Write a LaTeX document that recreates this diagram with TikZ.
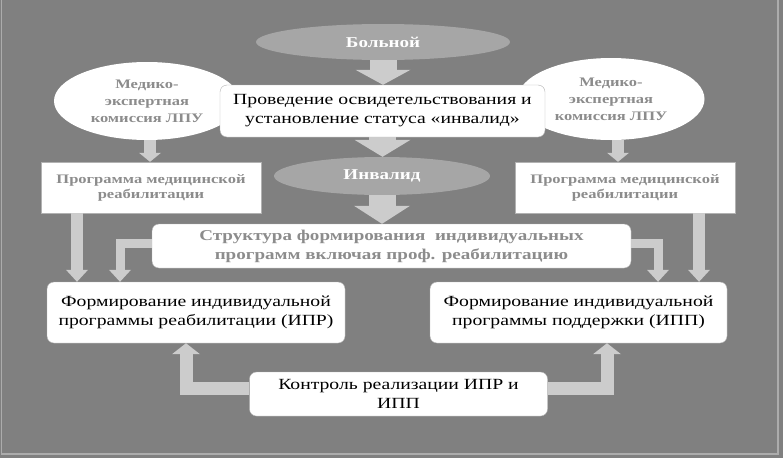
\documentclass[tikz,border=0pt]{standalone}
\usepackage{fontspec}
\setmainfont[FakeStretch=1.27]{Liberation Serif}
\usetikzlibrary{shapes.geometric,arrows.meta}

\begin{document}
\begin{tikzpicture}[x=1pt,y=-1pt,
  oval/.style={ellipse, fill=gray!70, text=white, inner sep=0pt,
    font=\bfseries\fontsize{15}{18}\selectfont},
  whiteoval/.style={ellipse, fill=white, text=gray!90, inner sep=0pt, align=center,
    font=\bfseries\fontsize{13}{17}\selectfont},
  plainbox/.style={rectangle, fill=white, draw=gray!60, inner sep=0pt, align=center,
    text=gray!90, font=\bfseries\fontsize{13}{15}\selectfont},
  roundbox/.style={rectangle, rounded corners=7pt, fill=white, draw=gray!60,
    inner sep=0pt, align=center, font=\fontsize{15.5}{18.5}\selectfont},
  blockarrow/.style n args={3}{gray!40, line width=#1,
    -{Triangle[width=#2, length=#3, line width=0pt]}}]
\useasboundingbox (0,0) rectangle (783,458);
% Background and frame
\fill[gray] (0,0) rectangle (783,458);
\draw[gray!65, line width=1.5pt] (1.5,0) |- (778,454) -- (778,0);

% Commissions and programmes
\node[whiteoval, minimum width=186pt, minimum height=78pt] (mekL) at (147,101)
  {Медико-\\экспертная\\комиссия ЛПУ};
\node[whiteoval, minimum width=187pt, minimum height=82pt] (mekR) at (611,99)
  {Медико-\\экспертная\\комиссия ЛПУ};
\node[plainbox, minimum width=220pt, minimum height=51pt] (progL) at (151,187.5)
  {Программа медицинской\\реабилитации};
\node[plainbox, minimum width=220pt, minimum height=51pt] (progR) at (625,187.5)
  {Программа медицинской\\реабилитации};

% Centre column
\node[oval, minimum width=254pt, minimum height=36pt] (bolnoy) at (383,42) {Больной};
\node[roundbox, minimum width=325pt, minimum height=52pt, font=\fontsize{15.5}{19}\selectfont]
  (exam) at (382.5,111) {Проведение освидетельствования и\\установление статуса «инвалид»};
\node[oval, minimum width=216pt, minimum height=38pt] (invalid) at (382,176) {Инвалид};

% Structure and individual programmes
\node[roundbox, minimum width=479pt, minimum height=44pt, text=gray!90,
  font=\bfseries\fontsize{15}{19}\selectfont] (struct) at (391.5,246)
  {Структура формирования~ индивидуальных\\программ включая проф. реабилитацию};
\node[roundbox, minimum width=298pt, minimum height=61pt] (formL) at (196,312.5)
  {Формирование индивидуальной\\программы реабилитации (ИПР)};
\node[roundbox, minimum width=297pt, minimum height=61pt] (formR) at (578.5,312.5)
  {Формирование индивидуальной\\программы поддержки (ИПП)};
\node[roundbox, minimum width=298pt, minimum height=44pt] (control) at (398.5,394)
  {Контроль реализации ИПР и\\ИПП};

% Arrows
\draw[blockarrow={27pt}{55pt}{15pt}] (bolnoy.south) -- (bolnoy.south |- exam.north);
\draw[blockarrow={27pt}{56pt}{17pt}] (exam.south) -- (exam.south |- invalid.north);
\draw[blockarrow={27pt}{56pt}{18pt}] (invalid.south) -- (invalid.south |- struct.north);
\draw[blockarrow={12pt}{22pt}{9pt}] (mekL.south -| 150,0) -- (progL.north -| 150,0);
\draw[blockarrow={12pt}{22pt}{9pt}] (mekR.south -| 618,0) -- (progR.north -| 618,0);
\draw[blockarrow={12pt}{22pt}{12pt}] (progL.south -| 77,0) -- (formL.north -| 77,0);
\draw[blockarrow={12pt}{22pt}{12pt}] (progR.south -| 699,0) -- (formR.north -| 699,0);
\draw[blockarrow={9pt}{22pt}{12pt}] (struct.west |- 0,243) -| (formL.north -| 120,0);
\draw[blockarrow={9pt}{22pt}{12pt}] (struct.east |- 0,243) -| (formR.north -| 658,0);
\draw[blockarrow={13pt}{28pt}{11pt}] (control.west |- 0,388.5) -| (formL.south -| 186,0);
\draw[blockarrow={13pt}{28pt}{11pt}] (control.east |- 0,388.5) -| (formR.south -| 607,0);
\end{tikzpicture}
\end{document}
